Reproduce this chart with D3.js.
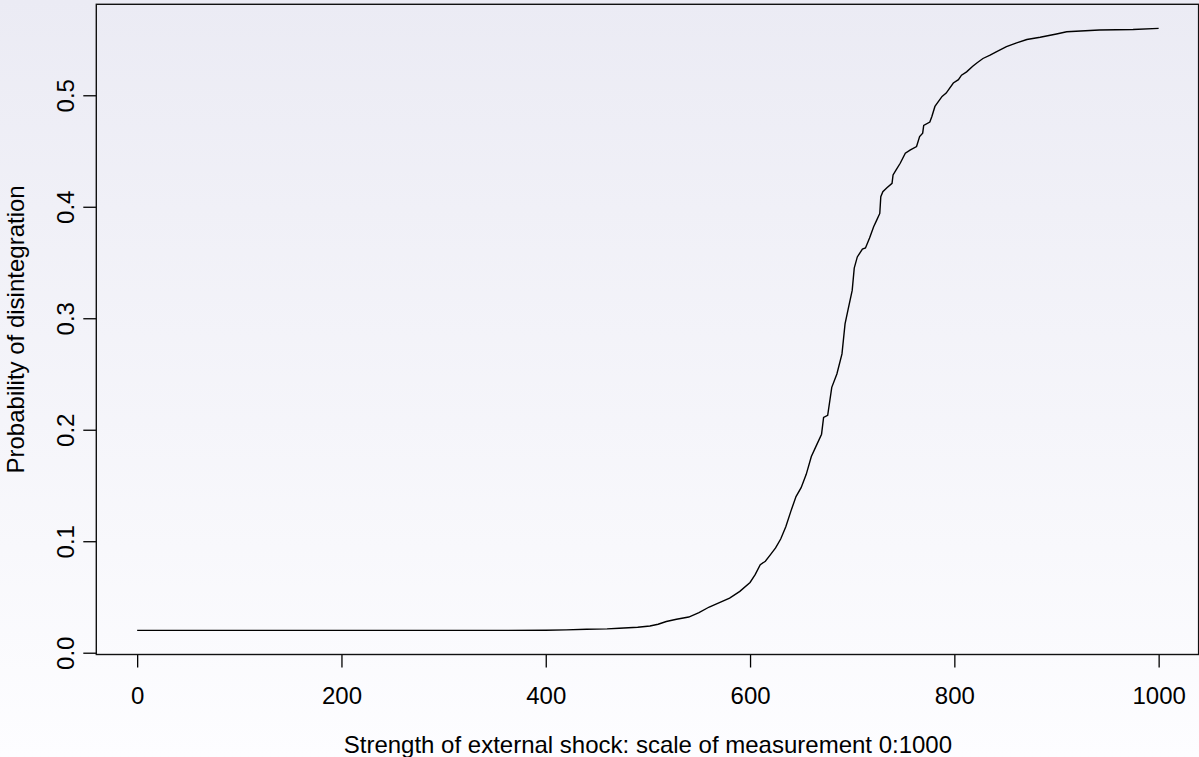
<html>
  <head>
    <meta charset="utf-8" />
    <title>Probability of disintegration</title>
    <script src="https://d3js.org/d3.v7.min.js"></script>
    <style type="text/css">
      body { margin: 0; }
      text { font-family: "Liberation Sans", Arial, sans-serif; font-size: 24px; fill: black; }
    </style>
  </head>
  <body>
    <div id="chart"></div>
    <script type="text/javascript">
      // values
      var shock = [0, 100, 200, 300, 350, 400, 420, 440, 460, 472, 490, 502, 510, 518, 528,
        540, 550, 560, 570, 580, 590, 600, 605, 610, 615, 620, 625, 630, 635, 640,
        645, 650, 655, 660, 665, 670, 672, 676, 680, 685, 690, 693, 696, 700, 702,
        705, 710, 713, 717, 721, 724, 727, 728, 730, 734, 739, 740, 743, 747, 752,
        757, 763, 766, 769, 770, 776, 778, 781, 788, 792, 799, 804, 807, 812, 818,
        822, 828, 835, 841, 851, 861, 871, 884, 900, 910, 942, 975, 1000];
      var prob = [0.020, 0.020, 0.020, 0.020, 0.020, 0.0202, 0.0205, 0.021, 0.0214, 0.0219, 0.0228, 0.024, 0.0255, 0.028, 0.030,
        0.032, 0.036, 0.041, 0.045, 0.049, 0.055, 0.063, 0.070, 0.079, 0.082, 0.088, 0.094, 0.102, 0.113, 0.127,
        0.140, 0.148, 0.160, 0.176, 0.186, 0.196, 0.211, 0.213, 0.238, 0.250, 0.268, 0.295, 0.308, 0.325, 0.345,
        0.355, 0.362, 0.363, 0.372, 0.382, 0.388, 0.394, 0.409, 0.4135, 0.417, 0.421, 0.4285, 0.433, 0.439, 0.448,
        0.451, 0.454, 0.463, 0.466, 0.473, 0.476, 0.481, 0.490, 0.499, 0.502, 0.511, 0.514, 0.518, 0.521, 0.526,
        0.529, 0.533, 0.536, 0.539, 0.5436, 0.547, 0.550, 0.552, 0.555, 0.557, 0.5586, 0.559, 0.560];
      var xTicks = [0, 200, 400, 600, 800, 1000];
      var yTicks = [0.0, 0.1, 0.2, 0.3, 0.4, 0.5];
      var xTitle = "Strength of external shock: scale of measurement 0:1000";
      var yTitle = "Probability of disintegration";

      var width = 1199, height = 757;
      var plotLeft = 96.3, plotRight = 1198.6, plotTop = 4.3, plotBottom = 654.5;

      var svg = d3.select("#chart").append("svg")
          .attr("width", width)
          .attr("height", height);

      var grad = svg.append("defs").append("linearGradient")
          .attr("id", "bg")
          .attr("x1", 0).attr("y1", 0).attr("x2", 0).attr("y2", 1);
      grad.append("stop").attr("offset", "0%").attr("stop-color", "#ebebf4");
      grad.append("stop").attr("offset", "100%").attr("stop-color", "#fdfdff");
      svg.append("rect")
          .attr("width", width).attr("height", height)
          .style("fill", "url(#bg)");

      // R style 4% padding around the data range
      var x = d3.scaleLinear().domain([-40, 1040]).range([plotLeft, 1199.5]);
      var y = d3.scaleLinear().domain([-0.0016, 0.5816]).range([plotBottom, plotTop]);

      var line = d3.line()
          .x(function(d, i) { return x(shock[i]); })
          .y(function(d, i) { return y(prob[i]); });

      svg.append("path")
          .datum(prob)
          .attr("d", line)
          .style("fill", "none")
          .style("stroke", "black")
          .style("stroke-width", 1.4);

      var xAxis = svg.append("g")
          .attr("transform", "translate(0," + plotBottom + ")")
          .call(d3.axisBottom(x).tickValues(xTicks).tickSize(13).tickPadding(19)
            .tickFormat(d3.format("d")));
      var yAxis = svg.append("g")
          .attr("transform", "translate(" + plotLeft + ",0)")
          .call(d3.axisLeft(y).tickValues(yTicks).tickSize(13).tickFormat(d3.format(".1f")));

      [xAxis, yAxis].forEach(function(g) {
        g.select(".domain").remove();
        g.selectAll("line").style("stroke", "black").style("stroke-width", 1.3);
        g.selectAll("text").style("font-size", "24px")
          .style("font-family", "'Liberation Sans', Arial, sans-serif").style("fill", "black");
      });

      // rotated y tick labels, as R draws them
      yAxis.selectAll(".tick text")
          .attr("x", null).attr("dy", null)
          .attr("text-anchor", "middle")
          .attr("transform", "translate(-22.5,0) rotate(-90)");

      svg.append("rect")
          .attr("x", plotLeft).attr("y", plotTop)
          .attr("width", plotRight - plotLeft).attr("height", plotBottom - plotTop)
          .style("fill", "none")
          .style("stroke", "#111")
          .style("stroke-width", 1.4);

      svg.append("text")
          .attr("x", (plotLeft + 1199.5) / 2)
          .attr("y", 753)
          .attr("text-anchor", "middle")
          .text(xTitle);

      svg.append("text")
          .attr("transform", "translate(23.5," + (plotTop + plotBottom) / 2 + ") rotate(-90)")
          .attr("text-anchor", "middle")
          .text(yTitle);
    </script>
  </body>
</html>
